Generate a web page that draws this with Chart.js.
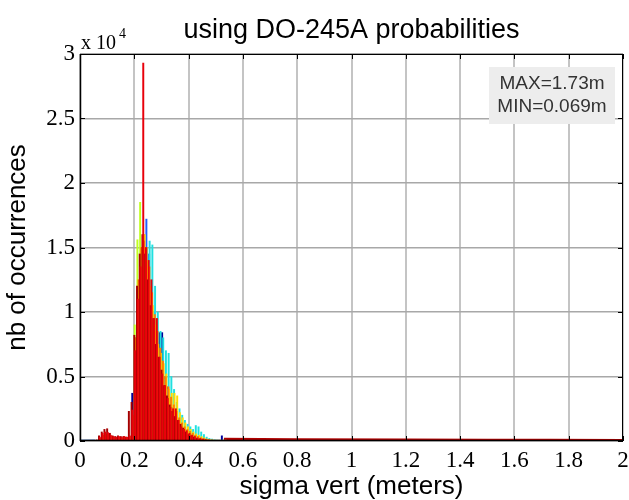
<!DOCTYPE html>
<html>
<head>
<meta charset="utf-8">
<script src="https://cdn.jsdelivr.net/npm/chart.js@4.4.0/dist/chart.umd.min.js"></script>
<style>
  html, body { margin: 0; padding: 0; background: #fff; }
</style>
</head>
<body>
<canvas id="chart" width="629" height="500"></canvas>
<script>
// bin centres (meters), shared by every run
const bins = [0.06, 0.07, 0.08, 0.09, 0.10, 0.11, 0.12, 0.13, 0.14, 0.15,
              0.16, 0.17, 0.18, 0.19, 0.20, 0.21, 0.22, 0.23, 0.24, 0.25,
              0.26, 0.27, 0.28, 0.29, 0.30, 0.31, 0.32, 0.33, 0.34, 0.35,
              0.36, 0.37, 0.38, 0.39, 0.40, 0.41, 0.42, 0.43, 0.44, 0.45,
              0.46, 0.47, 0.48, 0.49, 0.50, 0.51, 0.52, 0.53];

// each run is binned slightly differently (meters)
const shifts = [0.003, 0.0, 0.0055, 0.008, 0.0015, 0.0065, 0.0045, 0.0025];

const redRun = [60,300,600,700,650,450,350,300,350,300,350,300,400,2400,7000,11000,13500,29300,15000,14000,12500,9500,9500,6500,5200,4300,3300,2600,2500,2500,1600,1100,900,800,600,450,350,250,200,150,100,80,60,50,40,30,30,20];
const darkRedRun = [80,400,700,900,950,600,400,350,400,350,350,300,2300,3000,8200,12000,14500,16000,14500,12500,10500,9500,7500,6500,5500,4300,3500,2800,2300,1900,1600,1300,1000,700,500,400,300,200,150,100,80,60,50,40,30,30,20,20];
const orangeRun = [40,200,450,550,500,380,300,250,300,250,300,250,350,2000,8000,12500,15000,15500,15000,13500,11500,9800,8500,7200,6200,5000,4200,3400,2800,2300,1800,1400,1100,900,750,600,450,350,250,200,150,100,80,60,50,40,30,20];
const yellowRun = [30,150,350,500,450,350,250,200,250,200,250,200,250,900,5000,11000,15000,16000,14000,12000,10500,9000,7500,6800,6000,5200,4000,3700,3700,3500,2200,1800,1400,1100,900,700,550,450,350,250,150,100,80,60,50,40,30,20];
const yellowGreenRun = [50,200,500,600,550,400,300,250,300,250,300,250,300,1200,9000,15600,18500,14000,11000,9000,8000,7000,6000,5000,4200,3500,3000,2500,2000,1600,1300,1000,800,650,500,400,300,250,200,150,100,80,60,50,40,30,30,20];
const cyanRun = [20,100,250,400,350,250,200,150,200,150,200,150,200,700,3000,7000,11000,14000,15000,15500,15200,12000,10000,8500,8000,7000,6800,5000,4000,3000,2500,2000,1600,1300,1100,900,1200,1100,700,500,300,200,150,100,80,60,50,40];
const blueRun = [30,150,300,400,350,250,200,180,200,180,200,180,250,1000,4000,9000,14000,16000,17200,14500,12000,10000,8000,6500,5500,4800,4000,3200,2600,2000,1700,1300,1000,800,700,550,450,350,250,200,150,100,80,60,50,40,40,30];
const darkBlueRun = [50,200,400,500,450,300,250,200,250,200,250,200,300,3700,8000,11000,13500,14500,13000,11000,9500,8000,7000,8400,8400,5000,4200,3000,2600,2000,1500,1200,900,700,600,500,400,300,200,150,100,80,60,50,50,60,400,30];

// near-zero counts outside the main lobe
const headX = [0.0, 0.055];
const headY = [40, 60];
const tailX = [0.53, 0.8, 1.2, 1.5, 1.73, 2.0];
const tailY = [150, 120, 100, 80, 70, 60];

const runColors = ['#e8000b', '#a50000', '#ff7f00', '#ffdd00', '#c0ff20', '#20e0e0', '#1f5fff', '#00009a'];
const runs = [redRun, darkRedRun, orangeRun, yellowRun, yellowGreenRun, cyanRun, blueRun, darkBlueRun];

const datasets = runs.map((vals, k) => ({
  type: 'bar',
  data: bins.map((b, i) => ({ x: +(b + shifts[k]).toFixed(4), y: vals[i] })),
  backgroundColor: runColors[k],
  borderWidth: 0,
  barThickness: 1.3,
  grouped: false,
}));
datasets.push({
  type: 'line',
  data: headX.map((x, i) => ({ x, y: headY[i] })),
  borderColor: '#7090c0', borderWidth: 2, pointRadius: 0,
});
datasets.push({
  type: 'line',
  data: tailX.map((x, i) => ({ x, y: tailY[i] })),
  borderColor: '#b00000', borderWidth: 2.5, pointRadius: 0,
});

// MATLAB-ish box, inward ticks, exponent, title and stats box
const matlabFrame = {
  id: 'matlabFrame',
  afterDraw(chart) {
    const { ctx, chartArea: a, scales } = chart;
    ctx.save();
    ctx.strokeStyle = '#000';
    ctx.lineWidth = 1;
    ctx.strokeRect(a.left + 0.5, a.top + 0.5, a.right - a.left - 1, a.bottom - a.top - 1);
    ctx.lineWidth = 1.5;
    ctx.beginPath();
    ctx.moveTo(a.left + 0.5, a.top); ctx.lineTo(a.left + 0.5, a.bottom);
    ctx.moveTo(a.left, a.bottom - 0.5); ctx.lineTo(a.right, a.bottom - 0.5);
    ctx.stroke();
    ctx.lineWidth = 1;
    ctx.beginPath();
    scales.x.ticks.forEach(t => {
      const px = Math.round(scales.x.getPixelForValue(t.value)) + 0.5;
      ctx.moveTo(px, a.bottom); ctx.lineTo(px, a.bottom - 5);
      ctx.moveTo(px, a.top); ctx.lineTo(px, a.top + 5);
    });
    scales.y.ticks.forEach(t => {
      const py = Math.round(scales.y.getPixelForValue(t.value)) + 0.5;
      ctx.moveTo(a.left, py); ctx.lineTo(a.left + 5, py);
      ctx.moveTo(a.right, py); ctx.lineTo(a.right - 5, py);
    });
    ctx.stroke();

    ctx.fillStyle = '#000';
    ctx.textBaseline = 'alphabetic';
    ctx.textAlign = 'left';
    ctx.font = '20px "Liberation Serif"';
    ctx.fillText('x 10', a.left + 1, 49);
    ctx.font = '14px "Liberation Serif"';
    ctx.fillText('4', a.left + 39, 38);

    ctx.textAlign = 'center';
    ctx.font = '27px "Liberation Sans"';
    ctx.fillText('using DO-245A probabilities', (a.left + a.right) / 2, 38);

    ctx.fillStyle = '#ededed';
    ctx.fillRect(489, 67, 126, 57);
    ctx.fillStyle = '#333';
    ctx.font = '19px "Liberation Sans"';
    ctx.fillText('MAX=1.73m', 552, 89);
    ctx.fillText('MIN=0.069m', 552, 112);
    ctx.restore();
  }
};

new Chart(document.getElementById('chart'), {
  type: 'bar',
  data: { datasets },
  plugins: [matlabFrame],
  options: {
    responsive: false,
    animation: false,
    layout: { padding: { top: 54, right: 6, left: 0, bottom: 0 } },
    plugins: { legend: { display: false }, tooltip: { enabled: false } },
    scales: {
      x: {
        type: 'linear', min: 0, max: 2, offset: false,
        afterFit: s => { s.height = 59; s.paddingLeft = 0; s.paddingRight = 0; },
        grid: { color: '#c4c4c4', lineWidth: 2, drawTicks: false, offset: false },
        border: { display: false },
        ticks: {
          stepSize: 0.2, padding: 6, color: '#000',
          font: { family: 'Liberation Serif', size: 23 },
          callback: v => String(Math.round(v * 10) / 10),
        },
        title: {
          display: true, text: 'sigma vert (meters)', color: '#000',
          font: { family: 'Liberation Sans', size: 26, lineHeight: 1 },
          padding: { top: 0, bottom: 0 },
        },
      },
      y: {
        min: 0, max: 30000,
        afterFit: s => { s.width = 80; s.paddingTop = 0; s.paddingBottom = 0; },
        grid: { color: '#a8a8a8', lineWidth: 1.5, drawTicks: false },
        border: { display: false },
        ticks: {
          stepSize: 5000, padding: 5, color: '#000',
          font: { family: 'Liberation Serif', size: 23 },
          callback: v => String(v / 10000),
        },
        title: {
          display: true, text: 'nb of occurrences', color: '#000',
          font: { family: 'Liberation Sans', size: 26, lineHeight: 1 },
          padding: { top: 5, bottom: 0 },
        },
      },
    },
  },
});
</script>
</body>
</html>
